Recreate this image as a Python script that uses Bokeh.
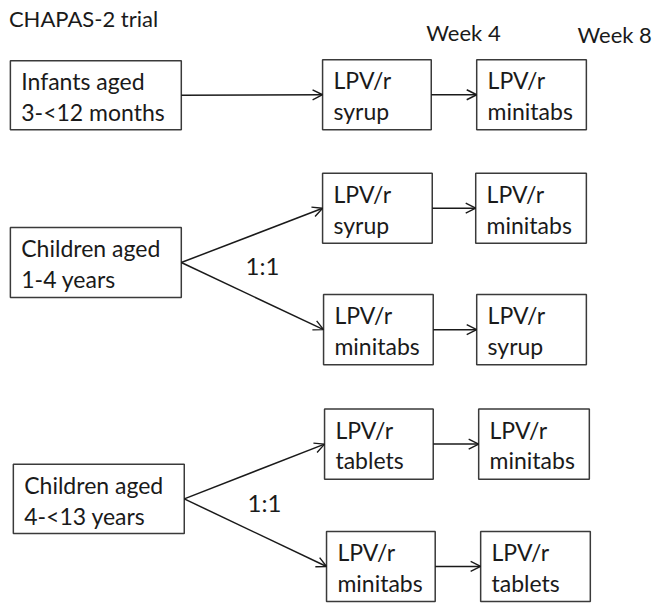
from bokeh.plotting import figure
from bokeh.models import ColumnDataSource, Arrow, OpenHead, Range1d
from bokeh.core.properties import value
from bokeh.embed import file_html
from bokeh.resources import INLINE

# ---- content ----
title_text = ["CHAPAS-2 trial"]
week_labels = ["Week 4", "Week 8"]
ratio_labels = ["1:1", "1:1"]

box_line1 = ["Infants aged", "LPV/r", "LPV/r",
             "Children aged", "LPV/r", "LPV/r", "LPV/r", "LPV/r",
             "Children aged", "LPV/r", "LPV/r", "LPV/r", "LPV/r"]
box_line2 = ["3-<12 months", "syrup", "minitabs",
             "1-4 years", "syrup", "minitabs", "minitabs", "syrup",
             "4-<13 years", "tablets", "minitabs", "minitabs", "tablets"]

# ---- layout (picture pixel coordinates) ----
box_left = [10, 326, 482, 10, 326, 481, 327, 482, 13, 328, 484, 330, 486]
box_right = [183, 436, 593, 183, 437, 593, 438, 593, 186, 438, 596, 440, 597]
box_top = [61, 60, 60, 230, 175, 175, 298, 298, 470, 414, 414, 538, 538]
box_bottom = [131, 131, 131, 301, 246, 246, 369, 369, 540, 485, 485, 609, 609]

links_from = [0, 1, 3, 4, 3, 6, 8, 9, 8, 11]
links_to = [1, 2, 4, 5, 6, 7, 9, 10, 11, 12]

title_x, title_y = [8.5], [18]
week_x, week_y = [431, 584], [32, 34]
ratio_x, ratio_y = [248, 250], [269, 509]

FONT = value("Lato")
SIZE = "23px"
TXT = "#1a1a1a"
LINE = "#3a3a3a"

p = figure(width=657, height=603, x_range=Range1d(0, 665), y_range=Range1d(611, 0),
           output_backend="svg", toolbar_location=None, min_border=0,
           outline_line_color=None, background_fill_color="white")
p.axis.visible = False
p.grid.visible = False

boxes = ColumnDataSource(dict(left=box_left, right=box_right, top=box_top, bottom=box_bottom,
                              l1=box_line1, l2=box_line2,
                              tx=[l + 11 for l in box_left],
                              y1=[t + 21 for t in box_top],
                              y2=[t + 52 for t in box_top]))
p.quad(left="left", right="right", top="top", bottom="bottom", source=boxes,
       fill_color="white", line_color=LINE, line_width=1.5)
p.text(x="tx", y="y1", text="l1", source=boxes, text_font=FONT, text_font_size=SIZE,
       text_baseline="middle", text_align="left", text_color=TXT)
p.text(x="tx", y="y2", text="l2", source=boxes, text_font=FONT, text_font_size=SIZE,
       text_baseline="middle", text_align="left", text_color=TXT)

xs = [box_right[i] for i in links_from]
ys = [(box_top[i] + box_bottom[i]) / 2 for i in links_from]
xe = [box_left[i] for i in links_to]
ye = [(box_top[i] + box_bottom[i]) / 2 for i in links_to]
arrows = ColumnDataSource(dict(x_start=xs, y_start=ys, x_end=xe, y_end=ye))
p.add_layout(Arrow(end=OpenHead(size=10, line_width=1.4, line_color=TXT),
                   x_start="x_start", y_start="y_start", x_end="x_end", y_end="y_end",
                   source=arrows, line_width=1.5, line_color=TXT))

p.text(x=title_x, y=title_y, text=title_text, text_font=FONT, text_font_size="22px",
       text_baseline="middle", text_align="left", text_color=TXT)
p.text(x=week_x, y=week_y, text=week_labels, text_font=FONT, text_font_size="22px",
       text_baseline="middle", text_align="left", text_color=TXT)
p.text(x=ratio_x, y=ratio_y, text=ratio_labels, text_font=FONT, text_font_size="24px",
       text_baseline="middle", text_align="left", text_color=TXT)

open("out.html", "w").write(file_html(p, INLINE))
